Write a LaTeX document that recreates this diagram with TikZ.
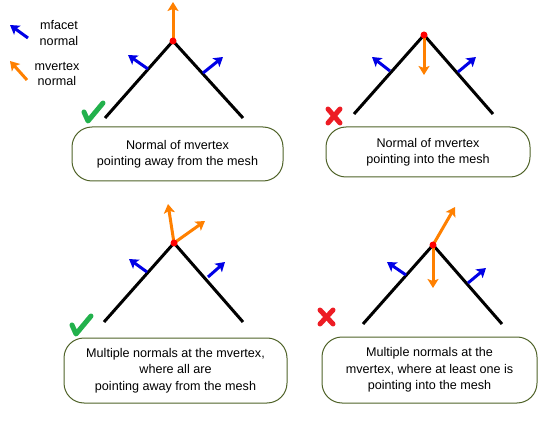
\documentclass[tikz,border=0pt]{standalone}
\usepackage{fontspec}
\setmainfont{Liberation Sans}
\usetikzlibrary{arrows.meta}
\definecolor{vertexorange}{RGB}{255,128,0}
\definecolor{facetblue}{RGB}{0,0,230}
\definecolor{boxgreen}{RGB}{79,98,40}
\definecolor{okgreen}{RGB}{34,177,76}
\definecolor{badred}{RGB}{237,28,36}
\tikzset{
    mesh/.style={line width=3pt},
    facetnormal/.style={line width=3pt, facetblue, -{Stealth[length=9pt,width=11pt,inset=2pt]}},
    vertexnormal/.style={line width=3pt, vertexorange, -{Stealth[length=9pt,width=11pt,inset=2pt]}},
    vertexdot/.style={circle, fill=red, inner sep=0pt, minimum size=7pt},
    caption/.style={draw=boxgreen, line width=1pt, rounded corners=20pt, align=center,
        font=\fontsize{12.6}{16.5}\selectfont, inner sep=0pt},
    legendtext/.style={align=center, font=\fontsize{12.6}{15.5}\selectfont},
    okmark/.style={okgreen, line width=5pt, line cap=round, line join=round},
    badmark/.style={badred, line width=5pt, line cap=round}
}
\begin{document}
\begin{tikzpicture}[x=1pt, y=-1pt]
    \useasboundingbox (0, 0) rectangle (549, 422);
    %legend
    \coordinate (lf1) at (28, 38);
    \coordinate (lf2) at (10, 25);
    \coordinate (lv1) at (27, 80);
    \coordinate (lv2) at (10, 61);
    \draw[facetnormal] (lf1) -- (lf2);
    \draw[vertexnormal] (lv1) -- (lv2);
    \node[legendtext] (legfacet) at (59, 33) {mfacet\\normal};
    \node[legendtext] (legvertex) at (57, 74) {mvertex\\normal};
    %top left: away from the mesh
    \coordinate (a1) at (173, 41);
    \coordinate (l1) at (105, 118);
    \coordinate (r1) at (243, 118);
    \draw[mesh] (l1) -- (a1) -- (r1);
    \coordinate (fl1) at (148, 69);
    \coordinate (fl1e) at (128, 55);
    \coordinate (fr1) at (203, 73);
    \coordinate (fr1e) at (223, 57);
    \coordinate (v1e) at (173, 2);
    \draw[facetnormal] (fl1) -- (fl1e);
    \draw[facetnormal] (fr1) -- (fr1e);
    \draw[vertexnormal] (a1) -- (v1e);
    \node[vertexdot] (d1) at (a1) {};
    \draw[okmark] (84, 112) -- (88, 121) -- (103, 103);
    \node[caption, minimum width=211pt, minimum height=54pt] (box1) at (177.5, 154)
        {Normal of mvertex\\pointing away from the mesh};
    %top right: into the mesh
    \coordinate (a2) at (424, 35);
    \coordinate (l2) at (354, 114);
    \coordinate (r2) at (493, 114);
    \draw[mesh] (l2) -- (a2) -- (r2);
    \coordinate (fl2) at (390, 71);
    \coordinate (fl2e) at (372, 57);
    \coordinate (fr2) at (458, 72);
    \coordinate (fr2e) at (476, 57);
    \coordinate (v2e) at (424, 75);
    \draw[facetnormal] (fl2) -- (fl2e);
    \draw[facetnormal] (fr2) -- (fr2e);
    \draw[vertexnormal] (a2) -- (v2e);
    \node[vertexdot] (d2) at (a2) {};
    \draw[badmark] (328, 109) -- (340, 123);
    \draw[badmark] (340, 109) -- (328, 123);
    \node[caption, minimum width=204pt, minimum height=50pt] (box2) at (428, 152)
        {Normal of mvertex\\pointing into the mesh};
    %bottom left: all away from the mesh
    \coordinate (a3) at (174, 243);
    \coordinate (l3) at (104, 322);
    \coordinate (r3) at (243, 322);
    \draw[mesh] (l3) -- (a3) -- (r3);
    \coordinate (fl3) at (147, 272);
    \coordinate (fl3e) at (129, 259);
    \coordinate (fr3) at (208, 277);
    \coordinate (fr3e) at (225, 262);
    \coordinate (v3e) at (168, 204);
    \coordinate (v3f) at (205, 221);
    \draw[facetnormal] (fl3) -- (fl3e);
    \draw[facetnormal] (fr3) -- (fr3e);
    \draw[vertexnormal] (a3) -- (v3e);
    \draw[vertexnormal] (a3) -- (v3f);
    \node[vertexdot] (d3) at (a3) {};
    \draw[okmark] (72, 325) -- (76, 334) -- (91, 316);
    \node[caption, minimum width=223pt, minimum height=65pt] (box3) at (175.5, 370.5)
        {Multiple normals at the mvertex,\\where all are\\pointing away from the mesh};
    %bottom right: at least one into the mesh
    \coordinate (a4) at (433, 245);
    \coordinate (l4) at (363, 324);
    \coordinate (r4) at (502, 324);
    \draw[mesh] (l4) -- (a4) -- (r4);
    \coordinate (fl4) at (406, 275);
    \coordinate (fl4e) at (387, 262);
    \coordinate (fr4) at (468, 283);
    \coordinate (fr4e) at (486, 268);
    \coordinate (v4e) at (455, 207);
    \coordinate (v4f) at (433, 288);
    \draw[facetnormal] (fl4) -- (fl4e);
    \draw[facetnormal] (fr4) -- (fr4e);
    \draw[vertexnormal] (a4) -- (v4e);
    \draw[vertexnormal] (a4) -- (v4f);
    \node[vertexdot] (d4) at (a4) {};
    \draw[badmark] (320, 310) -- (333, 324);
    \draw[badmark] (333, 310) -- (320, 324);
    \node[caption, minimum width=215pt, minimum height=66pt] (box4) at (429.5, 370)
        {Multiple normals at the\\mvertex, where at least one is\\pointing into the mesh};
\end{tikzpicture}
\end{document}
